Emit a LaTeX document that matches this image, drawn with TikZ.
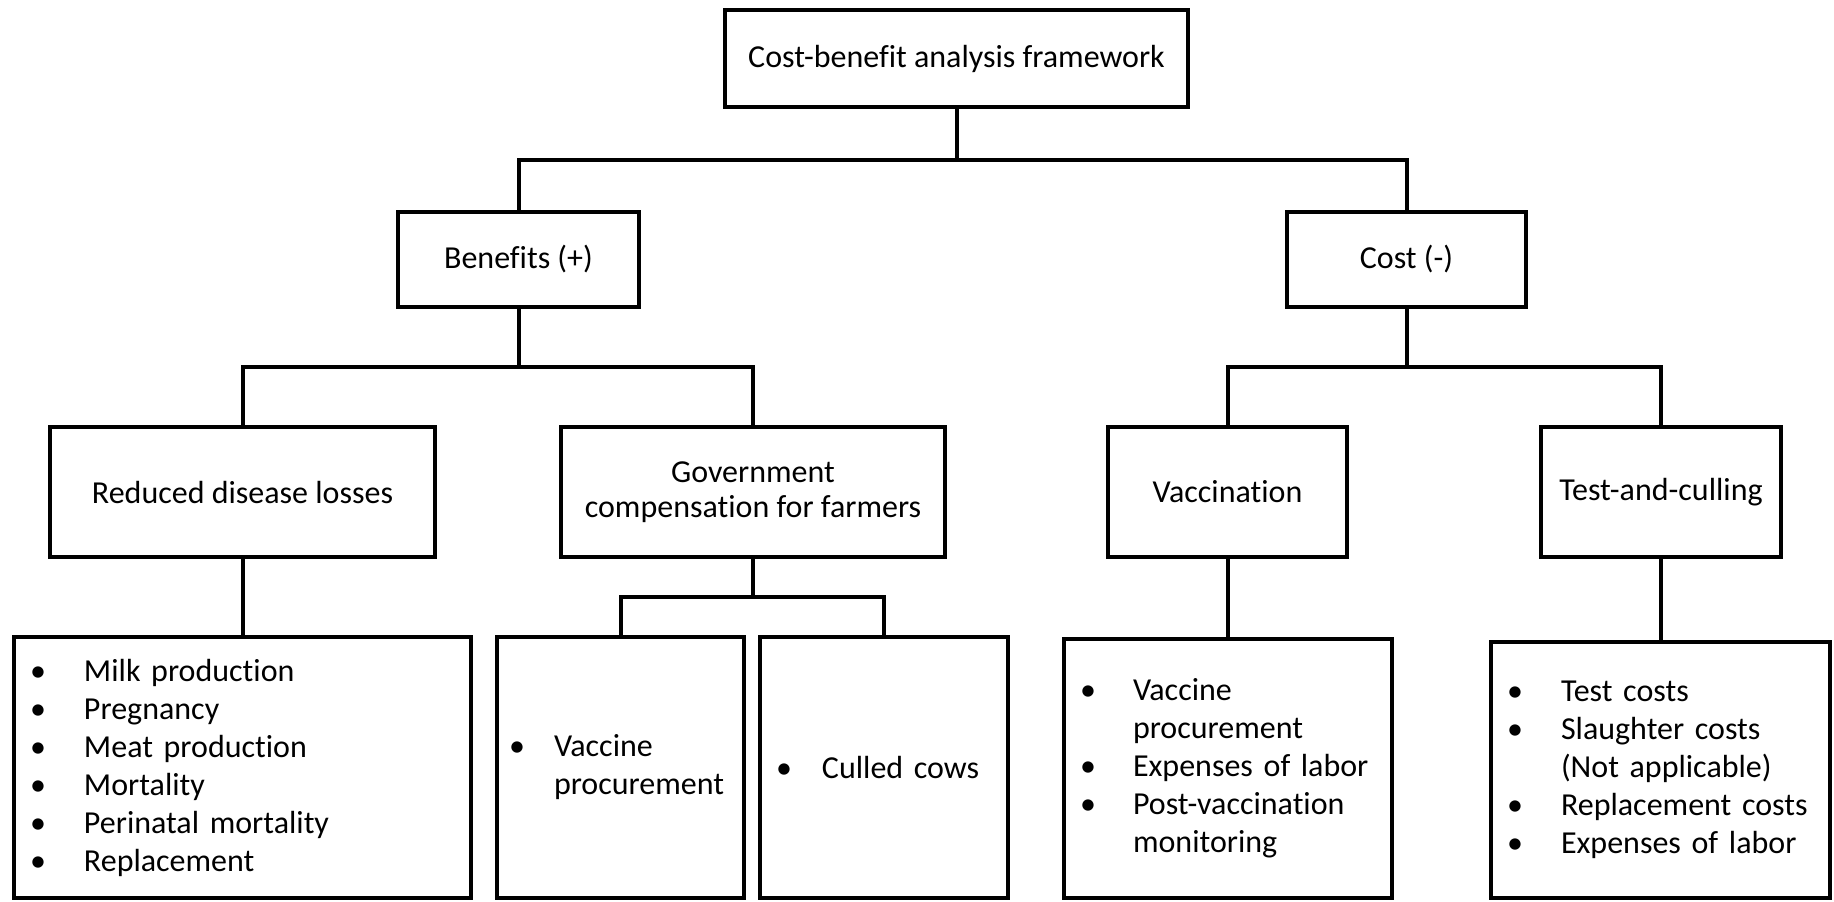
\documentclass[tikz,border=0pt]{standalone}
\usepackage{fontspec}
\setmainfont[Ligatures=NoCommon]{Carlito}
\usepackage{tikz}

% Ancho de la columna de vinetas
\newlength\bulw
\setlength\bulw{27pt}
\newcommand{\bl}{\makebox[\bulw][l]{\textbullet}}
\newcommand{\cont}{\hspace*{\bulw}}

\begin{document}
\begin{tikzpicture}[
            x=0.5pt, y=-0.5pt,
            every node/.style={font=\fontsize{16}{19}\selectfont},
            % Bloques con texto centrado
            block/.style={rectangle, draw, line width=2pt, align=center, inner sep=2pt},
            % Bloques con listas
            listbox/.style={rectangle, draw, line width=2pt, align=left, inner xsep=8pt, inner ysep=2pt},
            line/.style={draw, line width=2pt}
        ]
            \useasboundingbox (0,0) rectangle (1834,901);

            \node [block, minimum width=231.5pt, minimum height=48.5pt] (frame) at (956.5,58.5) {Cost-benefit analysis framework};
            \node [block, minimum width=120.5pt, minimum height=47.5pt] (benefits) at (518.5,259.5) {Benefits (+)};
            \node [block, minimum width=119.5pt, minimum height=47.5pt] (cost) at (1406.5,259.5) {Cost (-)};

            \node [block, minimum width=192.5pt, minimum height=65pt] (losses) at (242.5,492) {Reduced disease losses};
            \node [block, minimum width=192pt, minimum height=65pt, font=\fontsize{16}{17.5}\selectfont] (compens) at (753,492) {Government\\compensation for farmers};
            \node [block, minimum width=119.5pt, minimum height=65pt] (vaccin) at (1227.5,492) {Vaccination};
            \node [block, minimum width=120pt, minimum height=65pt] (culling) at (1661,492) {Test-and-culling};

            \node [listbox, text width=212.5pt, minimum height=130.5pt] (losslist) at (242.5,767.5)
                {\bl Milk production\\ \bl Pregnancy\\ \bl Meat production\\ \bl Mortality\\ \bl Perinatal mortality\\ \bl Replacement};
            \node [listbox, inner xsep=6pt, text width=111.5pt, minimum height=130.5pt] (vaclist) at (620.5,767.5)
                {\setlength\bulw{22.5pt}\bl Vaccine\\ \cont procurement};
            \node [listbox, text width=108pt, minimum height=130.5pt] (cowlist) at (884,767.5)
                {\setlength\bulw{23pt}\bl Culled cows};
            \node [listbox, text width=148pt, minimum height=129.5pt] (vcostlist) at (1228,768.5)
                {\setlength\bulw{26.5pt}\bl Vaccine\\ \cont procurement\\ \bl Expenses of labor\\ \bl Post-vaccination\\ \cont monitoring};
            \node [listbox, text width=153.5pt, minimum height=128pt] (tcostlist) at (1660.5,770)
                {\bl Test costs\\ \bl Slaughter costs\\ \cont (Not applicable)\\ \bl Replacement costs\\ \bl Expenses of labor};

            % Niveles de las barras horizontales
            \coordinate (bus1) at (0,160);
            \coordinate (bus2) at (0,367);
            \coordinate (bus3) at (0,597);

            \path [line] (frame.south) -- (frame.south |- bus1) -| (benefits.north);
            \path [line] (frame.south |- bus1) -| (cost.north);
            \path [line] (benefits.south) -- (benefits.south |- bus2) -| (losses.north);
            \path [line] (benefits.south |- bus2) -| (compens.north);
            \path [line] (cost.south) -- (cost.south |- bus2) -| (vaccin.north);
            \path [line] (cost.south |- bus2) -| (culling.north);
            \path [line] (losses.south) -- (losslist.north);
            \path [line] (compens.south) -- (compens.south |- bus3) -| (vaclist.north);
            \path [line] (compens.south |- bus3) -| (cowlist.north);
            \path [line] (vaccin.south) -- (vaccin.south |- vcostlist.north);
            \path [line] (culling.south) -- (culling.south |- tcostlist.north);
        \end{tikzpicture}
\end{document}
